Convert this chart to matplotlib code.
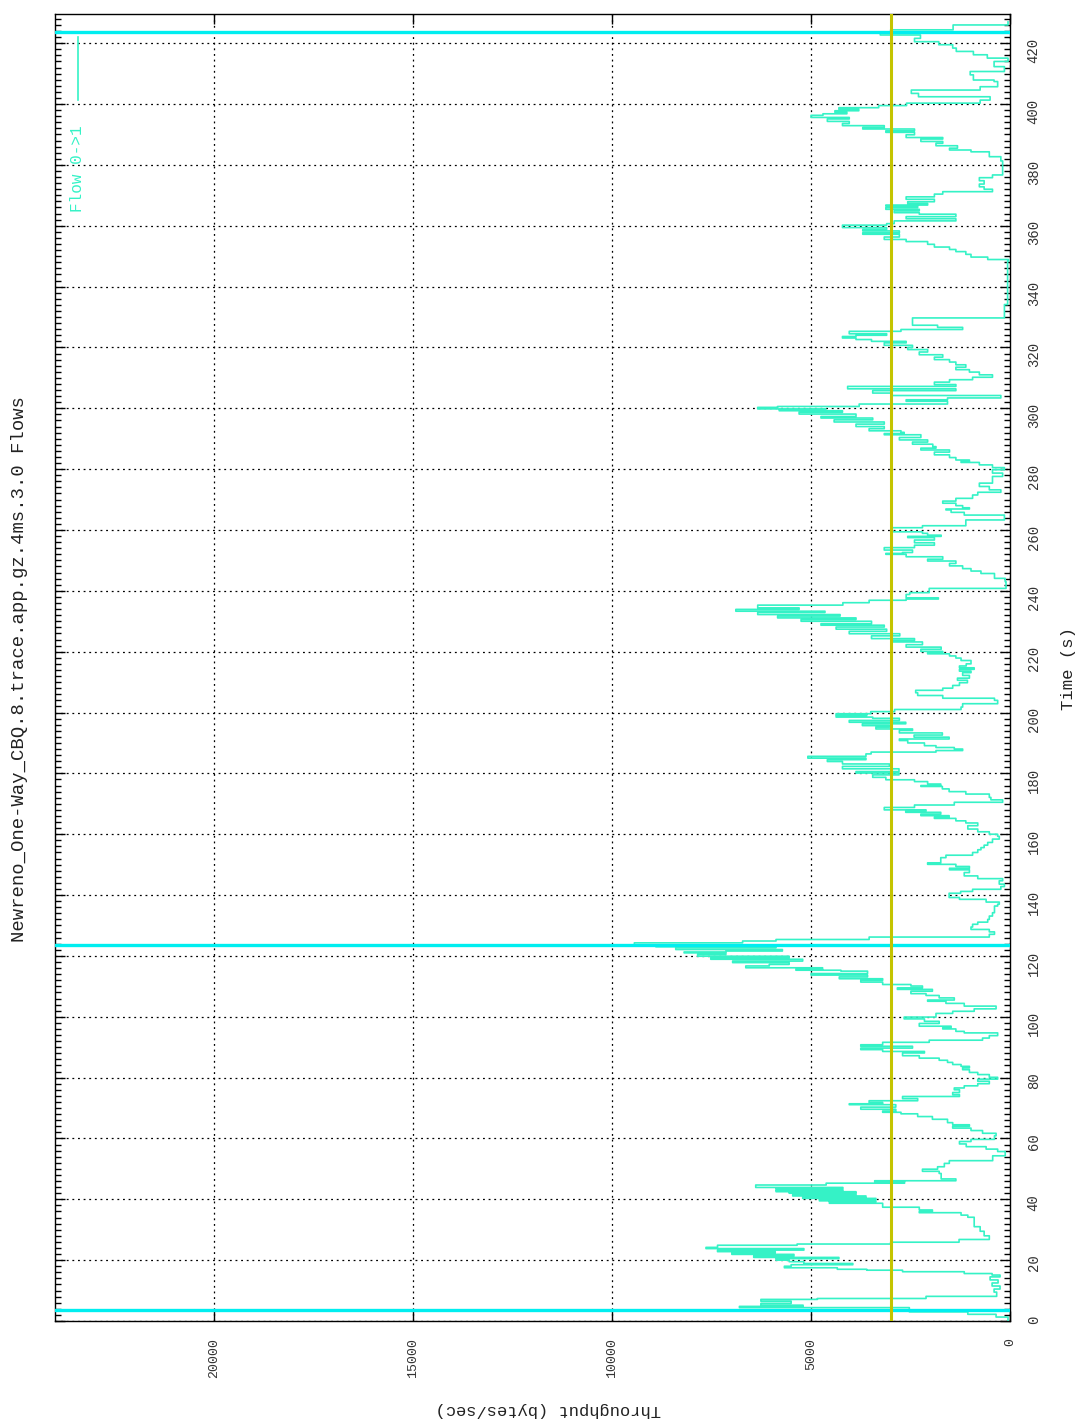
import matplotlib
matplotlib.use('Agg')
import matplotlib.pyplot as plt
from matplotlib.lines import Line2D
from matplotlib.ticker import MultipleLocator

###############################################################################
# DATA  (time [s], throughput [bytes/sec])
###############################################################################

times = [
    0.0, 1.3, 2.2, 3.0, 4.4, 4.8, 5.2, 5.8, 6.5, 7.1, 7.4, 8.1, 9.5, 10.5, 11.5,
    12.5, 13.5, 14.5, 15.1, 15.6, 16.2, 16.7, 17.0, 17.5, 18.0, 18.5, 18.9, 19.5,
    20.0, 20.5, 20.9, 21.4, 21.9, 22.4, 22.8, 23.3, 23.8, 24.2, 24.9, 25.3, 25.9,
    26.8, 28.0, 29.5, 31.0, 32.1, 34.1, 34.8, 35.6, 36.0, 36.5, 37.4, 38.7, 39.2,
    39.5, 40.0, 40.3, 40.6, 41.1, 41.5, 42.0, 42.3, 42.5, 42.8, 43.1, 43.5, 43.9,
    44.7, 45.3, 45.8, 46.1, 46.7, 48.5, 49.2, 49.9, 50.7, 51.8, 52.7, 54.3, 55.7,
    56.5, 57.3, 58.2, 59.0, 59.7, 60.9, 61.7, 62.6, 63.4, 64.0, 64.5, 65.2, 66.3,
    67.2, 68.1, 68.6, 69.0, 69.6, 70.3, 71.1, 71.4, 71.8, 72.4, 73.1, 73.8, 74.4,
    75.1, 76.0, 76.6, 77.3, 78.0, 78.8, 79.5, 80.1, 81.0, 81.7, 82.6, 83.2, 83.7,
    84.3, 85.0, 85.7, 86.4, 87.2, 88.1, 88.6, 89.2, 89.7, 90.3, 90.8, 91.6, 92.3,
    93.0, 93.8, 94.7, 95.2, 96.0, 96.4, 96.9, 97.8, 98.5, 99.3, 99.9, 101.1,
    101.8, 102.6, 103.5, 104.4, 105.1, 105.5, 106.2, 107.0, 107.6, 108.4, 109.0,
    109.5, 110.1, 110.6, 111.4, 112.0, 112.5, 113.1, 113.7, 114.2, 115.0, 115.3,
    115.6, 116.1, 116.7, 117.2, 117.8, 118.3, 118.9, 119.4, 119.9, 120.5, 121.0,
    121.3, 121.6, 122.1, 122.7, 123.0, 123.5, 124.3, 124.9, 125.4, 126.2, 127.1,
    127.9, 128.7, 129.5, 130.4, 131.1, 132.0, 133.1, 134.2, 136.4, 137.0, 137.7,
    138.6, 139.2, 140.6, 141.2, 141.9, 142.8, 143.6, 144.7, 145.4, 146.3, 147.4,
    148.3, 148.8, 149.4, 150.1, 150.6, 152.3, 153.1, 154.0, 154.9, 155.6, 156.4,
    157.3, 158.4, 159.3, 160.0, 160.8, 161.7, 162.8, 163.7, 164.4, 165.2, 165.6,
    166.1, 166.6, 167.2, 167.7, 168.0, 168.8, 169.6, 170.5, 171.3, 172.1, 173.2,
    174.0, 174.9, 175.7, 176.0, 176.5, 177.3, 177.9, 178.7, 179.5, 180.1, 180.6,
    181.5, 182.3, 183.1, 183.9, 184.5, 185.0, 185.6, 186.4, 187.0, 187.5, 188.0,
    188.5, 189.1, 190.0, 190.8, 191.3, 191.9, 192.6, 193.3, 194.1, 194.6, 195.2,
    195.7, 196.3, 196.8, 197.4, 198.1, 198.5, 199.0, 199.3, 199.6, 200.3, 201.0,
    201.8, 202.9, 204.0, 204.7, 205.6, 206.5, 207.3, 208.0, 208.9, 209.8, 210.6,
    211.3, 212.2, 213.1, 213.6, 214.2, 214.7, 215.3, 216.0, 217.1, 217.9, 218.6,
    219.3, 219.7, 220.1, 220.8, 221.5, 222.3, 223.2, 223.7, 224.3, 225.2, 225.9,
    226.7, 227.4, 228.1, 228.7, 229.2, 230.0, 230.6, 231.1, 231.7, 232.2, 232.9,
    233.3, 233.9, 234.4, 235.3, 236.1, 236.9, 237.3, 237.7, 238.8, 239.4, 240.8,
    243.0, 244.1, 245.7, 246.5, 247.3, 248.2, 249.0, 249.8, 250.4, 251.2, 252.0,
    252.3, 252.6, 253.4, 254.2, 255.0, 255.8, 256.7, 257.5, 257.9, 258.3, 258.9,
    259.4, 260.2, 260.75, 261.4, 263.3, 264.9, 265.8, 266.6, 266.9, 267.3, 268.0,
    268.8, 269.5, 270.4, 271.5, 272.4, 273.2, 274.3, 275.4, 277.6, 278.7, 279.8,
    280.5, 281.4, 282.2, 282.5, 283.0, 283.8, 284.7, 285.6, 286.3, 286.9, 287.4,
    288.2, 288.9, 289.6, 290.4, 291.3, 291.7, 292.1, 292.6, 293.3, 294.0, 294.8,
    295.5, 296.2, 296.8, 297.3, 298.1, 298.7, 299.2, 299.5, 299.8, 300.3, 300.6,
    301.4, 302.3, 302.8, 303.4, 304.2, 305.0, 305.8, 306.4, 307.2, 307.8, 308.6,
    309.4, 310.2, 311.0, 311.9, 312.7, 313.5, 314.3, 315.2, 316.0, 316.8, 317.6,
    318.5, 319.3, 320.0, 320.7, 321.5, 322.0, 322.6, 323.1, 323.6, 324.0, 324.5,
    325.3, 325.9, 326.6, 327.3, 329.7, 334.1, 348.4, 348.9, 349.7, 350.6, 351.5,
    352.2, 353.0, 353.9, 354.8, 355.5, 356.3, 357.2, 357.7, 358.3, 358.8, 359.4,
    360.2, 360.7, 361.6, 362.3, 363.0, 363.8, 364.3, 364.9, 365.4, 366.0, 366.5,
    366.8, 367.3, 367.9, 368.7, 369.5, 370.4, 371.2, 372.0, 372.8, 373.7, 374.8,
    375.8, 376.7, 381.3, 382.7, 384.3, 384.9, 385.5, 386.3, 387.1, 387.7, 388.5,
    389.0, 389.9, 390.7, 391.2, 391.8, 392.3, 392.9, 393.6, 394.3, 395.1, 395.6,
    396.3, 396.8, 397.3, 397.8, 398.3, 398.8, 399.5, 400.3, 401.3, 402.4, 403.5,
    404.6, 405.7, 407.4, 407.9, 409.6, 410.7, 412.3, 414.0, 415.1, 416.2, 417.3,
    418.4, 419.5, 420.5, 421.6, 422.7, 423.5, 424.4, 426.0, 427.0,
]

thr = [
    50, 350, 1060, 2530, 6800, 5200, 6260, 5500, 6260, 4840, 2110, 335, 400, 250,
    450, 300, 500, 250, 450, 1150, 2700, 3600, 4340, 5670, 5500, 3950, 5180, 5550,
    5880, 4300, 6440, 5430, 6990, 5900, 7350, 5180, 7640, 7350, 5350, 3000, 1280,
    520, 650, 750, 900, 900, 1060, 1230, 2280, 1950, 2280, 3200, 4540, 3370, 4790,
    3370, 5210, 3620, 5460, 3870, 5550, 3870, 5880, 4200, 5880, 4200, 6390, 4620,
    2650, 3400, 1360, 1730, 1780, 2200, 1820, 1650, 1525, 435, 120, 310, 600, 1100,
    1270, 980, 390, 350, 690, 980, 1440, 1020, 1440, 1570, 1950, 2320, 2740, 3200,
    2870, 3750, 2870, 4040, 3200, 3540, 2320, 2700, 1270, 1440, 1270, 1400, 1150,
    810, 520, 810, 310, 520, 810, 1020, 1190, 1020, 1230, 1440, 1570, 1780, 2280,
    2700, 2150, 3200, 3750, 2450, 3750, 3200, 2030, 690, 520, 310, 1150, 1360,
    1690, 1480, 2280, 1780, 2150, 2660, 1860, 1440, 900, 350, 1150, 1610, 2070,
    1400, 1780, 2110, 2490, 1950, 2830, 2200, 2490, 3200, 3750, 3200, 4290, 3580,
    5000, 3580, 4250, 5380, 4710, 6640, 6050, 5550, 6970, 5210, 7520, 5550, 7850,
    7140, 8190, 7140, 5720, 8400, 5880, 8900, 9440, 6720, 5880, 3540, 520, 390,
    520, 980, 940, 810, 560, 520, 440, 390, 310, 270, 600, 1270, 1530, 1240, 940,
    230, 140, 270, 185, 810, 1150, 1020, 1520, 1020, 1360, 2070, 1740, 1610, 940,
    810, 730, 650, 560, 440, 270, 310, 520, 810, 1060, 810, 1110, 1360, 1900,
    1530, 2240, 1740, 2620, 2110, 3160, 2400, 1400, 185, 480, 520, 1110, 1530,
    1700, 2240, 1740, 2070, 2400, 3120, 3450, 2790, 3870, 2790, 4210, 3030, 4210,
    4590, 3620, 5080, 3620, 3490, 1860, 1190, 1400, 1860, 2150, 2570, 2780, 1530,
    2410, 1700, 2780, 2450, 3370, 3030, 3710, 2620, 4040, 2780, 3450, 4370, 3600,
    4370, 3500, 2900, 1230, 1190, 310, 390, 1690, 2320, 2370, 1690, 1440, 1270,
    1070, 1320, 1020, 1190, 980, 1270, 900, 1270, 1100, 980, 1230, 1360, 1520,
    2070, 1690, 2240, 1730, 2610, 2200, 2990, 2400, 3480, 2770, 4040, 3100, 4370,
    3160, 4750, 3480, 5250, 3870, 5840, 4270, 6340, 4650, 6890, 5300, 6340, 4200,
    3540, 2610, 1800, 2610, 2520, 2030, 100, 120, 390, 730, 980, 1190, 1520, 1360,
    2070, 1690, 2610, 3120, 2700, 2450, 3160, 2400, 1900, 2400, 1900, 2570, 1730,
    2070, 2200, 2960, 2990, 2200, 1110, 140, 1150, 1480, 1610, 1020, 1190, 1360,
    1690, 1360, 940, 810, 230, 520, 770, 440, 185, 440, 140, 440, 770, 1230, 1020,
    1360, 1520, 1900, 1520, 2240, 1860, 1940, 2450, 2070, 2780, 2240, 3160, 2660,
    2740, 3540, 3160, 3870, 3160, 4420, 3450, 4750, 3870, 5300, 4210, 5800, 4630,
    6340, 5840, 3790, 1570, 2610, 1570, 230, 2990, 3450, 1360, 4080, 1360, 1900,
    1520, 940, 440, 770, 1020, 1360, 1110, 1360, 1520, 1900, 1690, 2280, 2070,
    2570, 2450, 3160, 2610, 3480, 3870, 4210, 3870, 3100, 4040, 2740, 1190, 1820,
    2450, 140, 60, 35, 560, 980, 1110, 1360, 1520, 1900, 2070, 2610, 3160, 2780,
    3700, 2780, 3700, 3100, 4210, 3100, 2910, 1360, 2610, 1360, 2280, 2910, 2280,
    3120, 2320, 3120, 2070, 2570, 1900, 2610, 1900, 1690, 440, 650, 770, 650, 770,
    440, 185, 230, 520, 980, 1520, 1320, 1860, 1690, 2240, 1690, 2610, 2400, 3120,
    2400, 3700, 3160, 4210, 4040, 4590, 4040, 5000, 4700, 4100, 4400, 3800, 4300,
    3300, 2600, 750, 500, 2300, 2480, 750, 310, 400, 920, 1000, 140, 400, 50, 570,
    920, 1350, 1440, 1790, 2400, 2250, 3260, 3000, 1430, 50, 50,
]

marker_times = [3.75, 123.6, 423.8]
avg_thr = 2985

title = "Newreno_One-Way_CBQ.8.trace.app.gz.4ms.3.0 Flows"
flow_name = "Flow 0->1"

TRACE = '#35f2c6'
CYAN = '#00eef0'
YELLOW = '#c4c400'
FONT = ['Liberation Mono', 'DejaVu Sans Mono']

###############################################################################
# PLOT (gnuplot landscape page, drawn rotated)
###############################################################################

W, H = 1079, 1427
fig = plt.figure(figsize=(W / 100, H / 100), dpi=100)
ax = fig.add_axes([55 / W, 1 - 1321 / H, (1010 - 55) / W, (1321 - 14) / H])

ax.plot(thr, times, drawstyle='steps-pre', color=TRACE, lw=1.2, zorder=3)
for m in marker_times:
    ax.axhline(m, color=CYAN, lw=2.4, zorder=4)
ax.axvline(avg_thr, color=YELLOW, lw=2.2, zorder=4)

ax.set_xlim(24000, 0)
ax.set_ylim(0, 429.6)
ax.xaxis.set_major_locator(MultipleLocator(5000))
ax.yaxis.set_major_locator(MultipleLocator(20))
ax.yaxis.set_minor_locator(MultipleLocator(2))
ax.yaxis.tick_right()

ax.tick_params(axis='both', which='both', direction='in', top=True, bottom=True,
               left=True, right=True, width=1, color='black')
ax.tick_params(axis='both', which='major', length=7)
ax.tick_params(axis='both', which='minor', length=4)
ax.tick_params(axis='x', labelrotation=90, labelsize=9.5, pad=12)
ax.tick_params(axis='y', labelrotation=90, labelsize=10, pad=12)
for lab in ax.get_xticklabels() + ax.get_yticklabels():
    lab.set_family(FONT)
    lab.set_color('#333333')

ax.grid(True, which='major', color='black', linestyle=(0, (1.5, 3)), lw=0.9)
ax.set_axisbelow(True)
for s in ax.spines.values():
    s.set_linewidth(1.0)

fig.text(20 / W, 1 - 669 / H, title, rotation=90, ha='center', va='center',
         fontsize=13.6, family=FONT, color='#222222')
fig.text(1068 / W, 1 - 669 / H, "Time (s)", rotation=90, ha='center', va='center',
         fontsize=12.4, family=FONT, color='#222222')
fig.text(548 / W, 1 - 1410 / H, "Throughput (bytes/sec)", rotation=180,
         ha='center', va='center', fontsize=12.3, family=FONT, color='#222222')

# legend (top-left, rotated)
fig.text(78 / W, 1 - 212 / H, flow_name, rotation=90, ha='center', va='bottom',
         fontsize=11.5, family=FONT, color=TRACE)
fig.add_artist(Line2D([78 / W, 78 / W], [1 - 100 / H, 1 - 37 / H], color=TRACE, lw=1.2))

fig.savefig('out.png', dpi=100)
